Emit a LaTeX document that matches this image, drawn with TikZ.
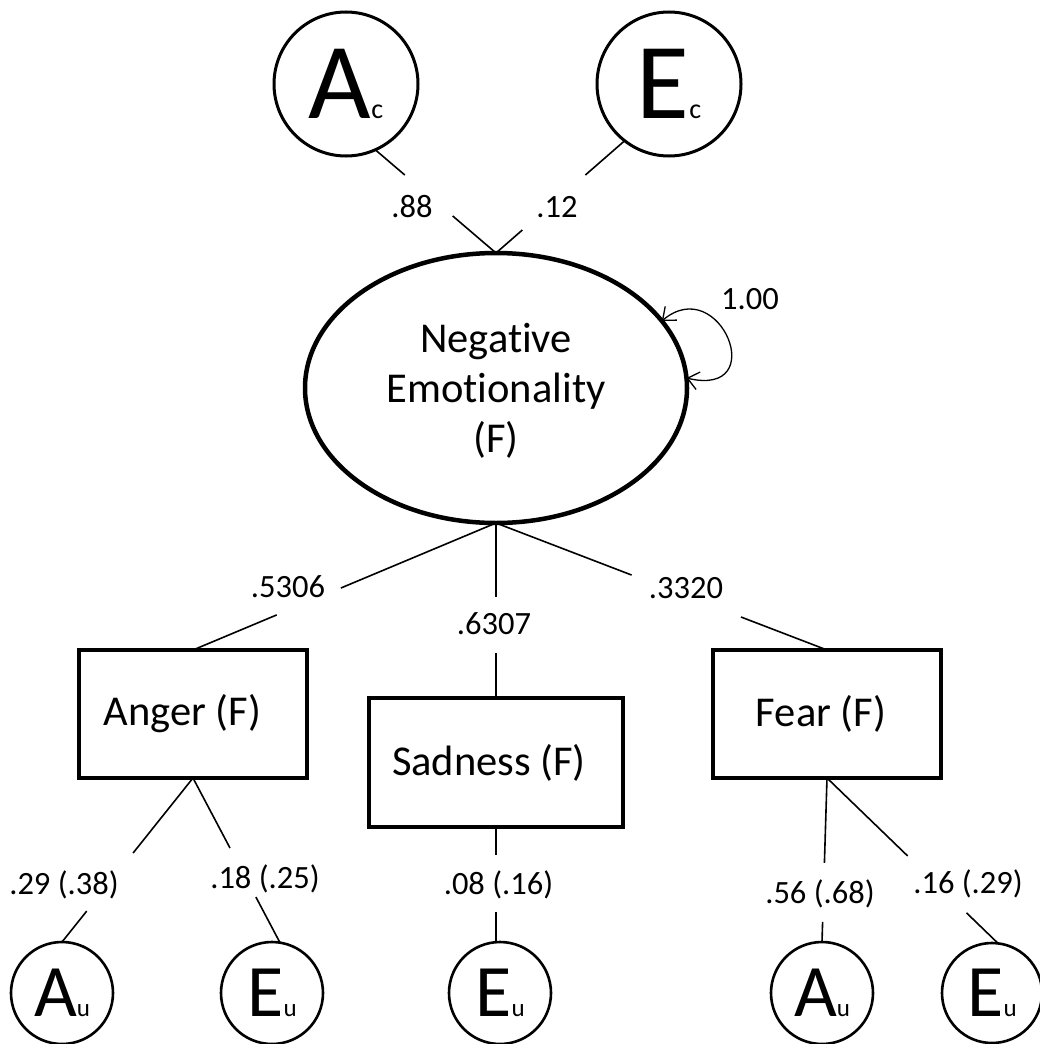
\documentclass[tikz,border=0pt]{standalone}
\usepackage{fontspec}
\setmainfont{Carlito}[Ligatures={NoCommon,NoRequired,NoContextual}]
\usetikzlibrary{shapes.geometric,arrows.meta}

% latent variable labels: large letter followed by a small subscript-like letter
\newcommand\toplatent[2]{{\fontsize{108}{108}\selectfont #1}{\fontsize{28}{28}\selectfont #2}}
\newcommand\lowlatent[2]{{\fontsize{74}{74}\selectfont #1}{\fontsize{25}{25}\selectfont #2}}

\begin{document}
\begin{tikzpicture}[x=1pt,y=-1pt,
  every node/.style={outer sep=0pt},
  bigcirc/.style={circle, draw, line width=3pt, inner sep=0pt, minimum size=144pt},
  smallcirc/.style={circle, draw, line width=2.6pt, inner sep=0pt, minimum size=102pt},
  factor/.style={ellipse, draw, line width=4.5pt, inner sep=0pt,
    minimum width=382pt, minimum height=270pt, align=center,
    font=\fontsize{42.5}{50}\selectfont, text depth=0pt},
  facet/.style={rectangle, draw, line width=4pt, inner sep=0pt,
    minimum width=228pt, minimum height=128pt, font=\fontsize{42.5}{50}\selectfont},
  coef/.style={font=\fontsize{32.5}{38}\selectfont, inner sep=0pt},
  link/.style={line width=1.6pt},
  barb/.tip={Straight Barb[length=11pt,width=18pt]}
]
\useasboundingbox (0,0) rectangle (1040,1044);
\fill[white] (0,0) rectangle (1040,1044);

% common-factor latent variables
\node[bigcirc] (Ac) at (346,84) {\toplatent{A}{c}};
\node[bigcirc] (Ec) at (669,84) {\toplatent{E}{c}};

% higher-order factor
\node[factor] (NE) at (496,388) {Negative\\Emotionality\\(F)};

% facets
\node[facet] (Anger) at (193,714) {Anger (F)\kern21pt};
\node[facet, minimum width=254pt, minimum height=129pt] (Sad) at (496,762.5) {Sadness (F)\kern14pt};
\node[facet] (Fear) at (827,714) {Fear (F)\kern12pt};

% unique latent variables
\node[smallcirc] (Au1) at (62,993) {\lowlatent{A}{u}};
\node[smallcirc] (Eu1) at (272,993) {\lowlatent{E}{u}};
\node[smallcirc] (Eu2) at (500,993) {\lowlatent{E}{u}};
\node[smallcirc] (Au2) at (822,993) {\lowlatent{A}{u}};
\node[smallcirc, minimum size=100pt] (Eu3) at (992,993) {\lowlatent{E}{u}};

% paths, each broken where its coefficient sits
\draw[link, dash pattern=on 38.8pt off 63pt on 300pt] (Ac.-66) -- (NE.north);
\draw[link, dash pattern=on 52.1pt off 83.7pt on 300pt] (Ec.-128) -- (NE.north);
\draw[link, dash pattern=on 168.2pt off 69.6pt on 400pt] (NE.south) -- (Anger.north);
\draw[link, dash pattern=on 74pt off 56pt on 300pt] (NE.south) -- (Sad.north);
\draw[link, dash pattern=on 145.2pt off 117.2pt on 400pt] (NE.south) -- (Fear.north);
\draw[link, dash pattern=on 96pt off 74.3pt on 300pt] (Anger.south) -- (Au1.north);
\draw[link, dash pattern=on 79.2pt off 55.5pt on 300pt] (Anger.south) -- (Eu1.81);
\draw[link, dash pattern=on 28pt off 57pt on 300pt] (Sad.south) -- (Sad.south |- Eu2.north);
\draw[link, dash pattern=on 85pt off 59pt on 300pt] (Fear.south) -- (Au2.north);
\draw[link, dash pattern=on 112.2pt off 81.9pt on 300pt] (Fear.south) -- (Eu3.83);

% factor variance
\draw[line width=1.3pt, barb-barb] (NE.22) .. controls +(58,-49) and +(85,20) .. (NE.3);

% coefficients
\node[coef] (k88) at (412,207) {.88};
\node[coef] (k12) at (557,207) {.12};
\node[coef] (k5306) at (288,587) {.5306};
\node[coef] (k6307) at (494,624) {.6307};
\node[coef] (k3320) at (686,588) {.3320};
\node[coef] (kAu1) at (64,885) {.29 (.38)};
\node[coef] (kEu1) at (265,879) {.18 (.25)};
\node[coef] (kEu2) at (498.5,885) {.08 (.16)};
\node[coef] (kAu2) at (820,894) {.56 (.68)};
\node[coef] (kEu3) at (968,884) {.16 (.29)};
\node[coef] (kvar) at (750,299) {1.00};
\end{tikzpicture}
\end{document}
